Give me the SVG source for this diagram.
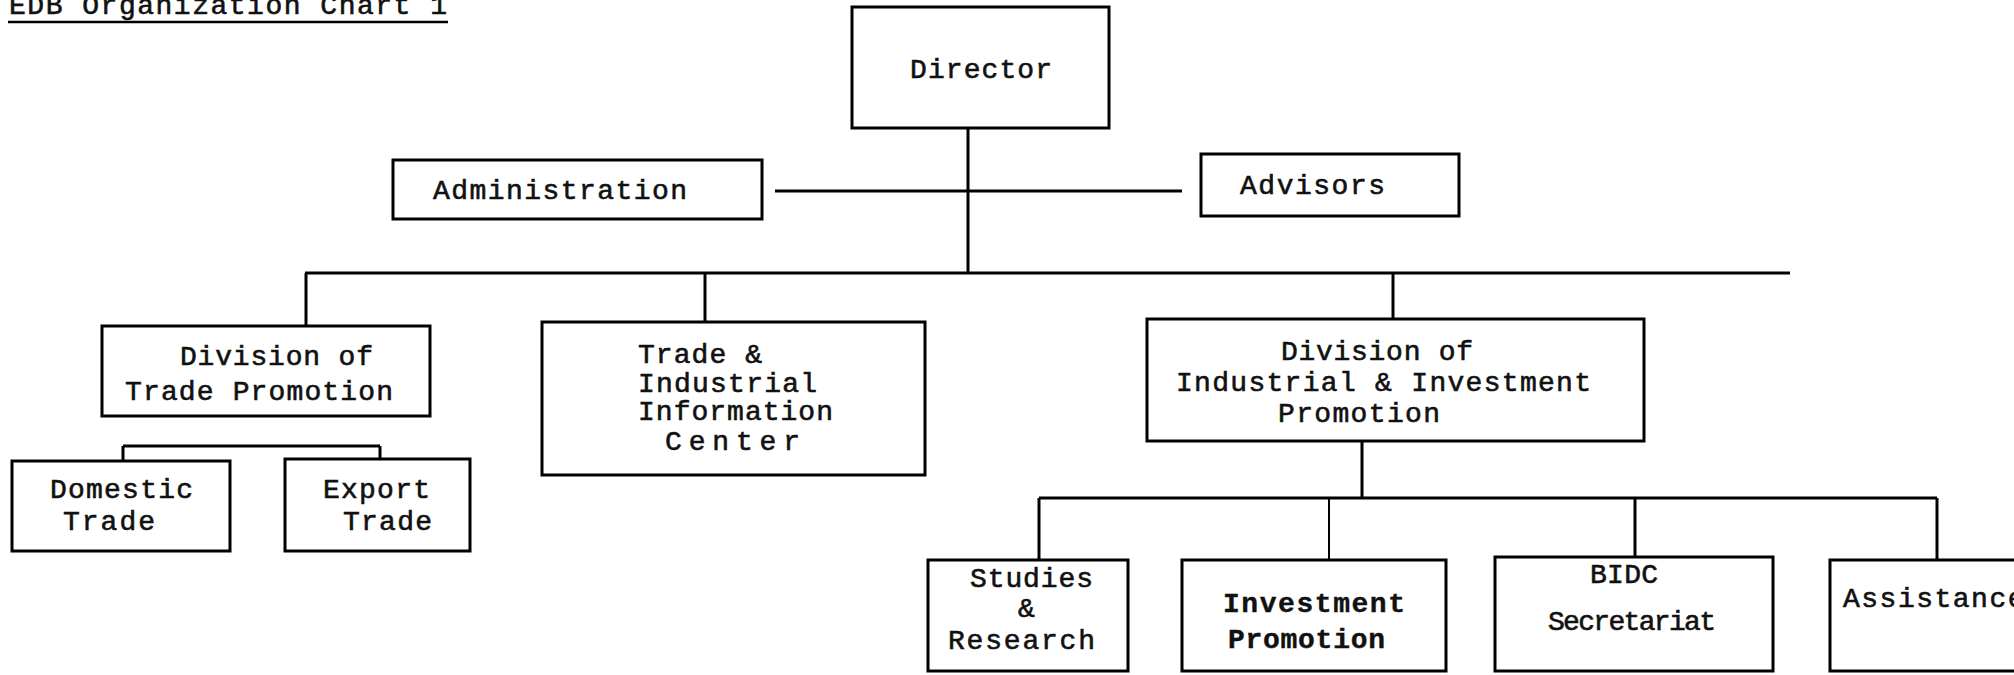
<svg xmlns="http://www.w3.org/2000/svg" width="2014" height="675" viewBox="0 0 2014 675">
<style>
.box{fill:none;stroke:#000;stroke-width:3}
.ln{fill:none;stroke:#000;stroke-width:3}
.thin{stroke-width:2}
text{font-family:"Liberation Mono","DejaVu Sans Mono",monospace;font-size:28px;fill:#111;stroke:#111;stroke-width:0.6}
.b{font-weight:bold;stroke-width:0.4}
</style>
<rect width="2014" height="675" fill="#fff"/>
<g id="title">
<text x="9" y="14" textLength="438" lengthAdjust="spacing">EDB Organization Chart 1</text>
<line x1="8" y1="22" x2="448" y2="22" stroke="#000" stroke-width="2.5"/>
</g>
<g id="connectors">
<line class="ln" x1="968" y1="128" x2="968" y2="273"/>
<line class="ln" x1="775" y1="191" x2="1182" y2="191"/>
<line class="ln" x1="305" y1="273" x2="1790" y2="273"/>
<line class="ln" x1="306" y1="273" x2="306" y2="326"/>
<line class="ln" x1="705" y1="273" x2="705" y2="322"/>
<line class="ln" x1="1393" y1="273" x2="1393" y2="319"/>
<line class="ln" x1="123" y1="446" x2="380" y2="446"/>
<line class="ln" x1="123" y1="446" x2="123" y2="461"/>
<line class="ln" x1="380" y1="446" x2="380" y2="459"/>
<line class="ln" x1="1362" y1="441" x2="1362" y2="498"/>
<line class="ln" x1="1039" y1="498" x2="1937" y2="498"/>
<line class="ln" x1="1039" y1="498" x2="1039" y2="560"/>
<line class="ln thin" x1="1329" y1="498" x2="1329" y2="560"/>
<line class="ln" x1="1635" y1="498" x2="1635" y2="557"/>
<line class="ln" x1="1937" y1="498" x2="1937" y2="560"/>
</g>
<g id="director">
<rect class="box" x="852" y="7" width="257" height="121"/>
<text x="910" y="78" textLength="142" lengthAdjust="spacing">Director</text>
</g>
<g id="administration">
<rect class="box" x="393" y="160" width="369" height="59"/>
<text x="433" y="199" textLength="254" lengthAdjust="spacing">Administration</text>
</g>
<g id="advisors">
<rect class="box" x="1201" y="154" width="258" height="62"/>
<text x="1240" y="194" textLength="145" lengthAdjust="spacing">Advisors</text>
</g>
<g id="div-trade-promotion">
<rect class="box" x="102" y="326" width="328" height="90"/>
<text x="180" y="365" textLength="193" lengthAdjust="spacing">Division of</text>
<text x="125" y="400" textLength="268" lengthAdjust="spacing">Trade Promotion</text>
</g>
<g id="tiic">
<rect class="box" x="542" y="322" width="383" height="153"/>
<text x="638" y="363" textLength="124" lengthAdjust="spacing">Trade &amp;</text>
<text x="638" y="392" textLength="179" lengthAdjust="spacing">Industrial</text>
<text x="638" y="420" textLength="195" lengthAdjust="spacing">Information</text>
<text x="665" y="450" textLength="135" lengthAdjust="spacing">Center</text>
</g>
<g id="div-industrial-investment">
<rect class="box" x="1147" y="319" width="497" height="122"/>
<text x="1281" y="360" textLength="192" lengthAdjust="spacing">Division of</text>
<text x="1176" y="391" textLength="415" lengthAdjust="spacing">Industrial &amp; Investment</text>
<text x="1278" y="422" textLength="162" lengthAdjust="spacing">Promotion</text>
</g>
<g id="domestic-trade">
<rect class="box" x="12" y="461" width="218" height="90"/>
<text x="50" y="498" textLength="143" lengthAdjust="spacing">Domestic</text>
<text x="63" y="530" textLength="92" lengthAdjust="spacing">Trade</text>
</g>
<g id="export-trade">
<rect class="box" x="285" y="459" width="185" height="92"/>
<text x="323" y="498" textLength="107" lengthAdjust="spacing">Export</text>
<text x="343" y="530" textLength="89" lengthAdjust="spacing">Trade</text>
</g>
<g id="studies-research">
<rect class="box" x="928" y="560" width="200" height="111"/>
<text x="970" y="587" textLength="123" lengthAdjust="spacing">Studies</text>
<text x="1018" y="617">&amp;</text>
<text x="948" y="649" textLength="147" lengthAdjust="spacing">Research</text>
</g>
<g id="investment-promotion">
<rect class="box" x="1182" y="560" width="264" height="111"/>
<text class="b" x="1223" y="612" textLength="182" lengthAdjust="spacing">Investment</text>
<text class="b" x="1228" y="648" textLength="157" lengthAdjust="spacing">Promotion</text>
</g>
<g id="bidc-secretariat">
<rect class="box" x="1495" y="557" width="278" height="114"/>
<text x="1590" y="583" textLength="68" lengthAdjust="spacing">BIDC</text>
<text x="1548" y="630" textLength="168" lengthAdjust="spacing">Secretariat</text>
</g>
<g id="assistance">
<rect class="box" x="1830" y="560" width="220" height="111"/>
<text x="1843" y="607" letter-spacing="1.5">Assistance</text>
</g>
</svg>
